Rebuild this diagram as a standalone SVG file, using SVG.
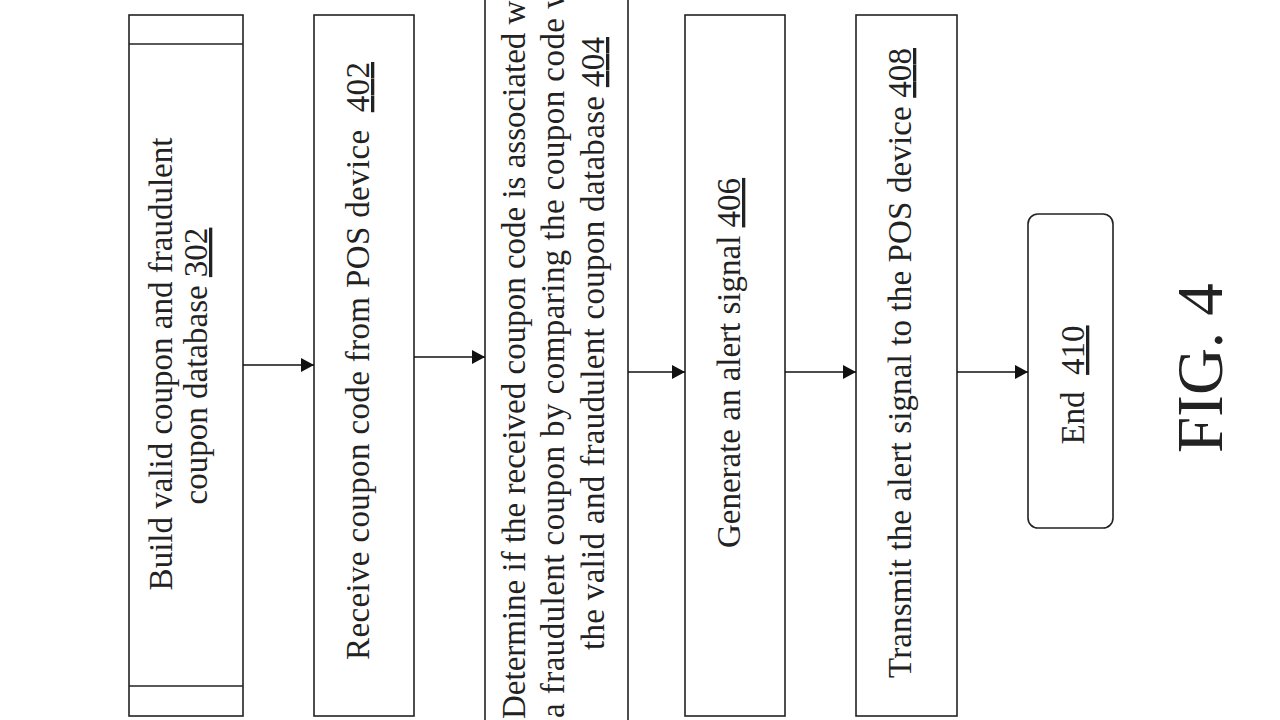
<svg xmlns="http://www.w3.org/2000/svg" width="1280" height="720" viewBox="0 0 1280 720">
<defs>
<marker id="ah" markerWidth="14" markerHeight="14" refX="13" refY="7" orient="auto" markerUnits="userSpaceOnUse">
<path d="M0,0 L13,7 L0,14 Z" fill="#111"/>
</marker>
</defs>
<style>
.box{fill:#fff;stroke:#222;stroke-width:1.6}
.ln{fill:none;stroke:#222;stroke-width:1.6}
.t{font-family:"Liberation Serif","Times New Roman",serif;font-size:33px;fill:#222;white-space:pre}
.u{text-decoration:underline}
.fig{font-family:"Liberation Serif","Times New Roman",serif;font-size:65px;fill:#222}
.c{stroke:#111;stroke-width:1.6;fill:none}
</style>
<rect width="1280" height="720" fill="#fff"/>
<g id="n302">
<rect class="box" x="129" y="15" width="114" height="701"/>
<line class="ln" x1="129" y1="44" x2="243" y2="44"/>
<line class="ln" x1="129" y1="686" x2="243" y2="686"/>
<text class="t" text-anchor="middle" transform="translate(172,364) rotate(-90)">Build valid coupon and fraudulent</text>
<text class="t" text-anchor="middle" transform="translate(207,366) rotate(-90)">coupon database <tspan class="u">302</tspan></text>
</g>
<g id="n402">
<rect class="box" x="314" y="15" width="100" height="701"/>
<text class="t" text-anchor="middle" textLength="598" lengthAdjust="spacing" transform="translate(369,361) rotate(-90)">Receive coupon code from POS device  <tspan class="u">402</tspan></text>
</g>
<g id="n404">
<rect class="box" x="485" y="-10" width="143" height="740"/>
<text class="t" text-anchor="start" transform="translate(525,719) rotate(-90)">Determine if the received coupon code is associated w</text>
<text class="t" text-anchor="start" textLength="733" lengthAdjust="spacing" transform="translate(564,718) rotate(-90)">a fraudulent coupon by comparing the coupon code w</text>
<text class="t" text-anchor="start" textLength="613" lengthAdjust="spacing" transform="translate(604,650) rotate(-90)">the valid and fraudulent coupon database <tspan class="u">404</tspan></text>
</g>
<g id="n406">
<rect class="box" x="685" y="15" width="100" height="701"/>
<text class="t" text-anchor="middle" transform="translate(740,363) rotate(-90)">Generate an alert signal <tspan class="u">406</tspan></text>
</g>
<g id="n408">
<rect class="box" x="856" y="15" width="101" height="701"/>
<text class="t" text-anchor="middle" textLength="630" lengthAdjust="spacing" transform="translate(911,363) rotate(-90)">Transmit the alert signal to the POS device <tspan class="u">408</tspan></text>
</g>
<g id="n410">
<rect class="box" x="1028" y="214" width="85" height="314" rx="10" ry="10"/>
<text class="t" text-anchor="middle" transform="translate(1084,385) rotate(-90)">End  <tspan class="u">410</tspan></text>
</g>
<g id="connectors">
<line class="c" x1="243" y1="365" x2="314" y2="365" marker-end="url(#ah)"/>
<line class="c" x1="414" y1="357" x2="485" y2="357" marker-end="url(#ah)"/>
<line class="c" x1="628" y1="372" x2="685" y2="372" marker-end="url(#ah)"/>
<line class="c" x1="785" y1="372" x2="856" y2="372" marker-end="url(#ah)"/>
<line class="c" x1="957" y1="372" x2="1028" y2="372" marker-end="url(#ah)"/>
</g>
<g id="caption">
<text class="fig" text-anchor="middle" transform="translate(1222,368) rotate(-90)">FIG. 4</text>
</g>
</svg>
